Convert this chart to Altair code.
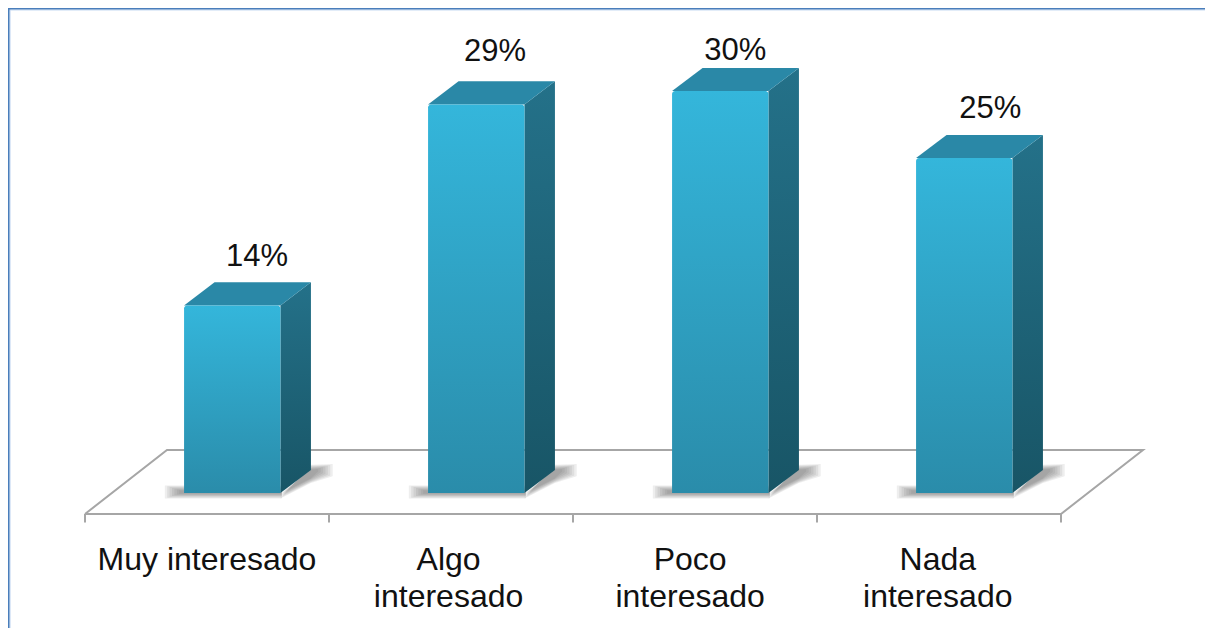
import altair as alt
import pandas as pd

categories = ["Muy interesado", "Algo\ninteresado", "Poco\ninteresado", "Nada\ninteresado"]
values = [14, 29, 30, 25]
label_texts = ["14%", "29%", "30%", "25%"]
# hand-placed offsets of the labels, as in the original chart (x in category units, y in % above bar)
label_dx = [0.705, 0.68, 0.665, 0.71]
label_dy = [2.95, 3.25, 2.35, 2.95]
cat_dx = [0.5, 0.49, 0.48, 0.495]

W, H = 1197, 620
PX_X, PX_Y = 244.0, 13.4      # pixels per category, pixels per percent
X0, Y0 = 77.0, 485.0          # plot position of category 0 and of 0 %
x_scale = alt.Scale(domain=[-X0 / PX_X, (W - X0) / PX_X], range=[0, W], nice=False, zero=False)
y_scale = alt.Scale(domain=[-(H - Y0) / PX_Y, Y0 / PX_Y], range=[H, 0], nice=False, zero=False)
X = lambda f="x": alt.X(f"{f}:Q", scale=x_scale, axis=None)
Y = lambda f="y": alt.Y(f"{f}:Q", scale=y_scale, axis=None)

BAR_L, BAR_W = 0.406, 0.395
DX, DY = 0.125, 1.72
F_DX, F_BACK, F_FRONT, TICK = 0.336, 3.21, -1.567, -2.2
SOFT = [0, 2, 4, 6, 8, 10, 12]   # spread of the nested shadow layers, px

front, side, top, labels, cats, shl, shr = [], [], [], [], [], [], []
for i, (c, v, t) in enumerate(zip(categories, values, label_texts)):
    l, r = i + BAR_L, i + BAR_L + BAR_W
    front.append(dict(x=l, x2=r, y=v, y2=0))
    side += [dict(b=i, x=r, y=v, y2=0), dict(b=i, x=r + DX, y=v + DY, y2=DY)]
    top += [dict(b=i, y=v, x=l, x2=r), dict(b=i, y=v + DY, x=l + DX, x2=r + DX)]
    labels.append(dict(x=i + label_dx[i], y=v + label_dy[i], t=t))
    cats.append(dict(x=i + cat_dx[i], y=-5.74, t=c))
    for k, s in enumerate(SOFT):
        ex, ey = s * 1.2 / PX_X, s * 0.4 / PX_Y
        shl.append(dict(x=l - 0.02 - ex, x2=r + 0.005, y=0.2 + ey, y2=-0.05 - ey))
        g = f"{i}-{k}"
        shr += [dict(g=g, x=r, y=-0.05 - ey, y2=-0.05 - ey),
                dict(g=g, x=r + DX, y=1.75 + ey, y2=1.1 - ey),
                dict(g=g, x=r + DX + 0.03 + ex, y=1.8 + ey, y2=1.6 - ey)]

floor = pd.DataFrame([
    dict(o=0, x=0, y=F_FRONT), dict(o=1, x=F_DX, y=F_BACK),
    dict(o=2, x=4 + F_DX, y=F_BACK), dict(o=3, x=4, y=F_FRONT), dict(o=4, x=0, y=F_FRONT),
])
ticks = pd.DataFrame([dict(x=i, y=F_FRONT, y2=TICK) for i in range(5)])

def vgrad(a, b):
    return alt.LinearGradient(gradient="linear", x1=0, x2=0, y1=0, y2=1,
                              stops=[alt.GradientStop(offset=0, color=a), alt.GradientStop(offset=1, color=b)])

GRAY = "#A6A6A6"
floor_l = alt.Chart(floor).mark_line(color=GRAY, strokeWidth=2).encode(x=X(), y=Y(), order="o:Q")
tick_l = alt.Chart(ticks).mark_rule(color=GRAY, strokeWidth=2).encode(x=X(), y=Y(), y2="y2:Q")

shadow_left = alt.Chart(pd.DataFrame(shl)).mark_rect(color="#555555", opacity=0.1).encode(
    x=X(), x2="x2:Q", y=Y(), y2="y2:Q")
shadow_right = alt.Chart(pd.DataFrame(shr)).mark_area(color="#555555", opacity=0.1).encode(
    x=X(), y=Y(), y2="y2:Q", detail="g:N")

side_m = alt.Chart(pd.DataFrame(side)).mark_area(color=vgrad("#247189", "#185566")).encode(
    x=X(), y=Y(), y2="y2:Q", detail="b:N")
top_m = alt.Chart(pd.DataFrame(top)).mark_area(orient="horizontal", color="#2A88A7").encode(
    y=Y(), x=X(), x2="x2:Q", detail="b:N")
front_m = alt.Chart(pd.DataFrame(front)).mark_rect(
    color=vgrad("#34B6DB", "#2A8CAA"), cornerRadiusTopLeft=3, cornerRadiusTopRight=3,
).encode(x=X(), x2="x2:Q", y=Y(), y2="y2:Q")

FONT = "Liberation Sans"
label_m = alt.Chart(pd.DataFrame(labels)).mark_text(
    font=FONT, fontSize=31, color="#111111", align="center", baseline="alphabetic",
).encode(x=X(), y=Y(), text="t:N")
cat_m = alt.Chart(pd.DataFrame(cats)).mark_text(
    font=FONT, fontSize=32, color="#111111", align="center", baseline="alphabetic",
    lineBreak="\n", lineHeight=37,
).encode(x=X(), y=Y(), text="t:N")

frame_blue_top = alt.Chart().mark_rule(color="#4A7EBB", strokeWidth=1.5).encode(
    x=alt.value(0), x2=alt.value(W), y=alt.value(0.75))
frame_pale_top = alt.Chart().mark_rule(color="#C6D9F1", strokeWidth=1.2).encode(
    x=alt.value(0), x2=alt.value(W), y=alt.value(2))
frame_blue_left = alt.Chart().mark_rule(color="#4A7EBB", strokeWidth=1.5).encode(
    y=alt.value(0), y2=alt.value(H), x=alt.value(0.75))
frame_pale_left = alt.Chart().mark_rule(color="#C6D9F1", strokeWidth=1.2).encode(
    y=alt.value(1), y2=alt.value(H), x=alt.value(2))

chart = alt.layer(
    floor_l, tick_l, shadow_left, shadow_right, side_m, top_m, front_m, label_m, cat_m,
    frame_pale_top, frame_pale_left, frame_blue_top, frame_blue_left,
).properties(
    width=W, height=H, padding=0, background="white",
    autosize=alt.AutoSizeParams(type="none"),
).configure_view(stroke=None)

chart.save("out.html", embed_options={"renderer": "svg", "actions": False})
